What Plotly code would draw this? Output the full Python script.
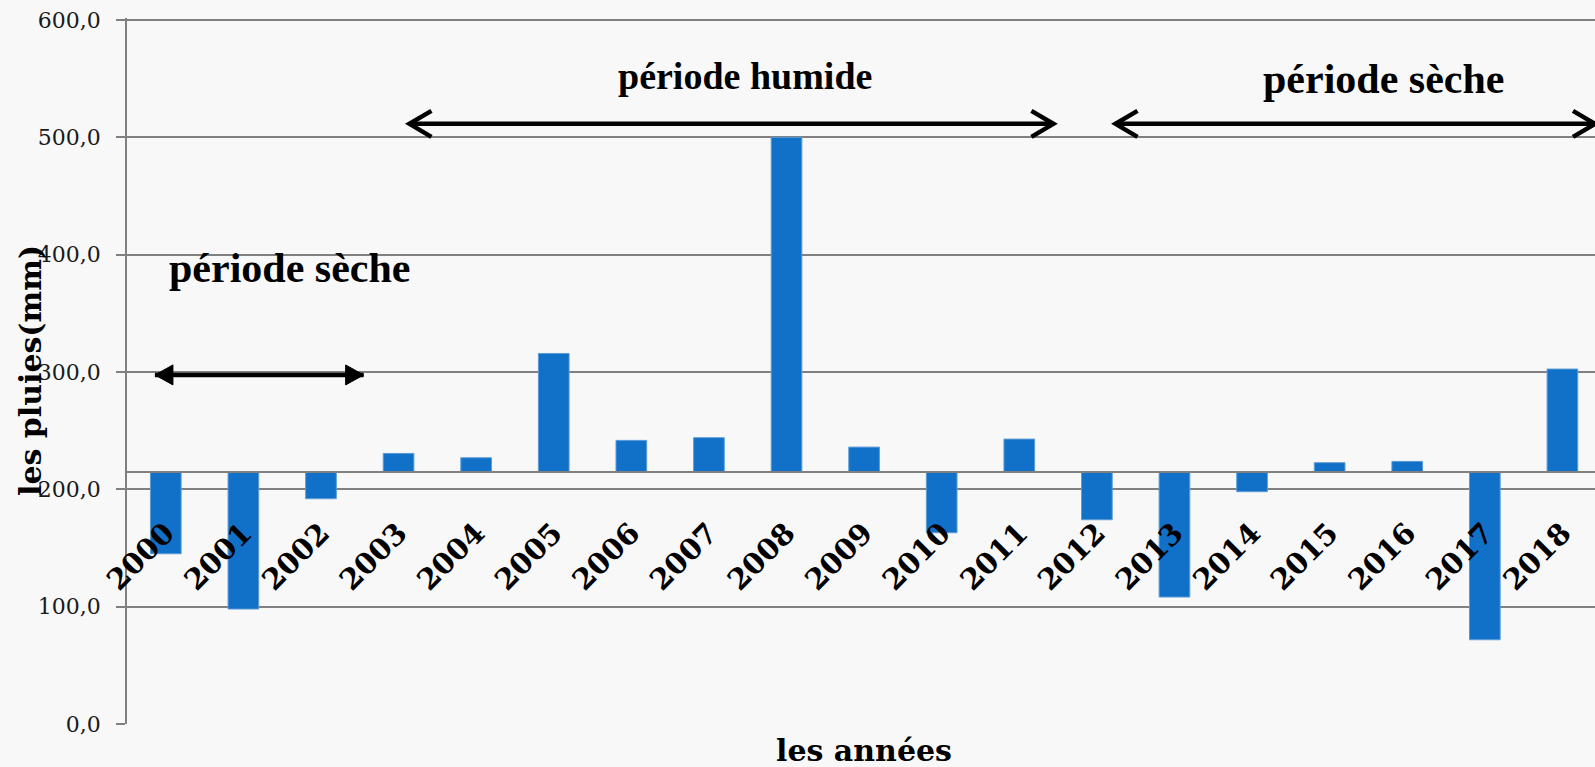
import plotly.graph_objects as go

# Annual rainfall (mm), 2000-2018
years = [str(y) for y in range(2000, 2019)]
rain_mm = [145.1, 98.0, 192.0, 230.6, 226.9, 315.8, 241.7, 244.0, 500.0, 236.0,
           163.0, 242.8, 174.1, 108.2, 198.0, 222.7, 223.8, 71.8, 302.5]
axis_cross = 215.0          # the category axis crosses the value axis here
y_ticks = [0, 100, 200, 300, 400, 500, 600]
y_tick_labels = ["0,0", "100,0", "200,0", "300,0", "400,0", "500,0", "600,0"]

period_names = ["période sèche", "période humide", "période sèche"]

Y_MIN, Y_MAX = 0, 600
Y_PAD = 1.7                 # small headroom so the 600 gridline is drawn
X_RANGE = [-0.5, 18.42]

BAR_COLOR = "#1170C8"
GRID = "#808080"
SERIF = "DejaVu Serif"
TIMES = "Liberation Serif"

fig = go.Figure()
fig.add_trace(go.Bar(
    x=years,
    y=[v - axis_cross for v in rain_mm],
    base=axis_cross,
    width=0.395,
    marker=dict(color=BAR_COLOR, line=dict(color="#5B9BD5", width=1)),
    hoverinfo="x+text",
    text=[f"{v:.1f}" for v in rain_mm],
    textposition="none",
))

# period arrows: (x start, x end, y level, head style)
arrows = [
    (-0.14, 2.55, 297.5, "filled"),
    (3.14, 11.44, 511.5, "open"),
    (12.24, 18.42, 511.5, "open"),
]
shapes = []
for x0, x1, yv, style in arrows:
    shapes.append(dict(type="line", xref="x", yref="y", x0=x0, x1=x1, y0=yv, y1=yv,
                       line=dict(color="black", width=4.5)))
    for xa, sign in ((x0, 1), (x1, -1)):
        if style == "filled":
            path = f"M 0,0 L {18*sign},10 L {18*sign},-10 Z"
            shapes.append(dict(type="path", xref="x", yref="y", xsizemode="pixel",
                               ysizemode="pixel", xanchor=xa, yanchor=yv, path=path,
                               fillcolor="black", line=dict(color="black", width=1)))
        else:
            path = f"M {22*sign},13 L 0,0 L {22*sign},-13"
            shapes.append(dict(type="path", xref="x", yref="y", xsizemode="pixel",
                               ysizemode="pixel", xanchor=xa, yanchor=yv, path=path,
                               line=dict(color="black", width=4.5)))

# period captions: (x centre, y centre, size)
caption_pos = [(1.59, 388.8, 42), (7.46, 552.5, 38), (15.70, 549.9, 42)]
annotations = []
for name, (cx, cy, fs) in zip(period_names, caption_pos):
    annotations.append(dict(x=cx, y=cy, xref="x", yref="y", text=f"<b>{name}</b>",
                            showarrow=False, xanchor="center", yanchor="middle",
                            font=dict(family=TIMES, size=fs, color="black")))

annotations.append(dict(x=0, y=0.5, xref="paper", yref="paper", xshift=-97,
                        text="<b>les pluies(mm)</b>", textangle=-90, showarrow=False,
                        xanchor="center", yanchor="middle",
                        font=dict(family=SERIF, size=30, color="black")))
annotations.append(dict(x=0.502, y=0, xref="paper", yref="paper", yshift=-7,
                        text="<b>les années</b>", showarrow=False,
                        xanchor="center", yanchor="top",
                        font=dict(family=SERIF, size=30, color="black")))

fig.update_layout(
    width=1595, height=767,
    margin=dict(l=127, r=0, t=18, b=43),
    paper_bgcolor="#f8f8f8",
    plot_bgcolor="#f8f8f8",
    showlegend=False,
    shapes=shapes,
    annotations=annotations,
    xaxis=dict(
        type="category",
        range=X_RANGE,
        anchor="free",
        position=(axis_cross - Y_MIN) / (Y_MAX + Y_PAD - Y_MIN),
        showline=True, linecolor=GRID, linewidth=1.5,
        showgrid=False, ticks="",
        tickangle=-45,
        ticklabelstandoff=32,
        tickfont=dict(family=SERIF, size=29, color="black"),
        tickprefix="<b>", ticksuffix="</b>",
    ),
    yaxis=dict(
        range=[Y_MIN, Y_MAX + Y_PAD],
        tickvals=y_ticks, ticktext=y_tick_labels,
        showgrid=True, gridcolor=GRID, gridwidth=1.5,
        showline=True, linecolor=GRID, linewidth=1.5,
        ticks="outside", ticklen=9, tickcolor=GRID, tickwidth=1.5,
        ticklabelstandoff=11,
        zeroline=False,
        tickfont=dict(family=SERIF, size=22, color="#1a1a1a"),
    ),
)

fig.write_html("out.html")
